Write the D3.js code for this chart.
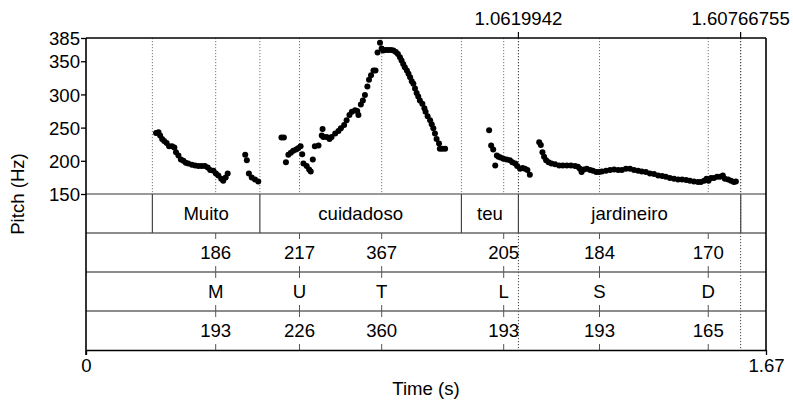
<!DOCTYPE html>
<html>
    <head>
        <title></title>
    </head>
    <body style="margin:0; background:#fff;">
        <style>
            svg text {
                font-family: "Liberation Sans", Arial, sans-serif;
                font-size: 18.6px;
                fill: #000;
            }
        </style>
        <script src="https://cdnjs.cloudflare.com/ajax/libs/d3/7.8.5/d3.min.js" charset="utf-8"></script>

        <script>

        var w = 793;
        var h = 401;

        // pitch track (s, Hz)
        var pitchTimes = [0.172, 0.178, 0.182, 0.187, 0.192, 0.198, 0.204, 0.211, 0.217, 0.221,
                          0.227, 0.233, 0.239, 0.245, 0.251, 0.260, 0.268, 0.276, 0.284, 0.292,
                          0.299, 0.305, 0.313, 0.319, 0.325, 0.332, 0.337, 0.343, 0.348,
                          0.391, 0.395, 0.400, 0.407, 0.415, 0.423,
                          0.480, 0.486, 0.491, 0.497, 0.503, 0.509, 0.516, 0.521, 0.527, 0.531,
                          0.534, 0.542, 0.548, 0.552, 0.557, 0.562, 0.571, 0.579, 0.581, 0.583,
                          0.591, 0.598, 0.603, 0.612, 0.620, 0.626, 0.634, 0.640, 0.647, 0.653,
                          0.661, 0.666, 0.669, 0.675, 0.680, 0.685, 0.691, 0.695, 0.700, 0.706,
                          0.711, 0.716, 0.722, 0.726, 0.730, 0.736, 0.742, 0.749, 0.755, 0.761,
                          0.766, 0.771, 0.775, 0.779, 0.783, 0.788, 0.792, 0.796, 0.800, 0.804,
                          0.808, 0.812, 0.816, 0.820, 0.826, 0.831, 0.834, 0.839, 0.845, 0.849,
                          0.853, 0.857, 0.861, 0.867, 0.869, 0.875, 0.882,
                          0.990, 0.995, 1.000, 1.005, 1.009, 1.013, 1.018, 1.025, 1.033, 1.041,
                          1.047, 1.054, 1.059, 1.066, 1.072, 1.078, 1.084, 1.090,
                          1.113, 1.117, 1.121, 1.125, 1.130, 1.136, 1.143, 1.152, 1.162, 1.171,
                          1.181, 1.191, 1.201, 1.208, 1.213, 1.217, 1.223, 1.230, 1.238, 1.245,
                          1.253, 1.260, 1.267, 1.277, 1.287, 1.297, 1.307, 1.316, 1.326, 1.336,
                          1.346, 1.356, 1.365, 1.375, 1.385, 1.395, 1.405, 1.415, 1.424, 1.434,
                          1.444, 1.454, 1.464, 1.474, 1.483, 1.493, 1.503, 1.510, 1.518, 1.524,
                          1.529, 1.535, 1.542, 1.550, 1.557, 1.564, 1.569, 1.577, 1.584, 1.591,
                          1.596];
        var pitchValues = [242, 243, 238, 233, 230, 227, 222, 222, 220, 213,
                           208, 202, 200, 197, 196, 194, 193, 192, 192, 192,
                           190, 186, 185, 181, 178, 173, 170, 175, 181,
                           209, 201, 181, 175, 172, 169,
                           235, 235, 198, 209, 212, 215, 217, 219, 222, 210,
                           196, 192, 187, 184, 202, 222, 223, 238, 248, 236,
                           236, 233, 236, 241, 245, 249, 254, 261, 269, 274,
                           276, 275, 269, 285, 291, 299, 312, 322, 329, 336,
                           336, 363, 378, 369, 366, 367, 367, 367, 366, 364,
                           361, 356, 351, 346, 341, 336, 331, 326, 320, 316,
                           309, 302, 297, 291, 286, 279, 274, 267, 261, 255,
                           249, 241, 233, 226, 218, 218, 218,
                           246, 223, 217, 193, 208, 206, 205, 203, 202, 201,
                           198, 196, 192, 188, 189, 188, 186, 179,
                           228, 224, 213, 206, 201, 198, 196, 195, 193, 193,
                           193, 193, 192, 191, 188, 183, 187, 188, 186, 185,
                           183, 183, 184, 185, 186, 187, 186, 186, 188, 188,
                           186, 185, 184, 183, 181, 180, 178, 177, 176, 174,
                           173, 172, 172, 171, 170, 169, 168, 168, 170, 173,
                           170, 174, 174, 176, 176, 178, 173, 172, 170, 168,
                           169];

        // annotation tiers
        var words = ["Muito", "cuidadoso", "teu", "jardineiro"];
        var wordStarts = [0.163, 0.427, 0.922, 1.062];
        var wordEnds = [0.427, 0.922, 1.062, 1.608];

        var pointTimes = [0.3185, 0.5243, 0.7262, 1.0258, 1.2611, 1.5282];
        var pointLabels1 = ["186", "217", "367", "205", "184", "170"];
        var pointLabels2 = ["M", "U", "T", "L", "S", "D"];
        var pointLabels3 = ["193", "226", "360", "193", "193", "165"];

        var selectionTimes = [1.0619942, 1.60766755];
        var selectionLabels = ["1.0619942", "1.60766755"];

        var pitchTicks = [150, 200, 250, 300, 350, 385];
        var timeTicks = [0, 1.67];

        var plotLeft = 86, plotRight = 766, plotTop = 38, pitchBottom = 194, tierH = 39;
        var plotBottom = pitchBottom + tierH * 4;

        var xScale = d3.scaleLinear()
                       .domain([0, 1.67])
                       .range([plotLeft, plotRight]);

        var yScale = d3.scaleLinear()
                       .domain([150, 385])
                       .range([pitchBottom, plotTop]);

        var svg = d3.select("body")
                    .append("svg")
                    .attr("width", w)
                    .attr("height", h);

        //dotted guide lines in pitch panel
        var guides = wordStarts.concat([wordEnds[wordEnds.length - 1]]).concat(pointTimes);
        svg.selectAll("line.guide")
            .data(guides)
            .enter()
            .append("line")
            .attr("class", "guide")
            .attr("x1", function(d) { return xScale(d); })
            .attr("x2", function(d) { return xScale(d); })
            .attr("y1", plotTop)
            .attr("y2", pitchBottom)
            .attr("stroke", "#777")
            .attr("stroke-width", 1)
            .attr("stroke-dasharray", "1.2,1.8");

        //selection lines
        svg.selectAll("line.sel")
            .data(selectionTimes)
            .enter()
            .append("line")
            .attr("class", "sel")
            .attr("x1", function(d) { return xScale(d); })
            .attr("x2", function(d) { return xScale(d); })
            .attr("y1", plotTop)
            .attr("y2", plotBottom)
            .attr("stroke", "#444")
            .attr("stroke-width", 1)
            .attr("stroke-dasharray", "1.2,1.8");

        svg.selectAll("line.selTick")
            .data(selectionTimes)
            .enter()
            .append("line")
            .attr("class", "selTick")
            .attr("x1", function(d) { return xScale(d); })
            .attr("x2", function(d) { return xScale(d); })
            .attr("y1", plotTop - 6)
            .attr("y2", plotTop)
            .attr("stroke", "#000")
            .attr("stroke-width", 1.2);

        svg.selectAll("text.sel")
            .data(selectionLabels)
            .enter()
            .append("text")
            .attr("class", "sel")
            .attr("x", function(d, i) { return xScale(selectionTimes[i]); })
            .attr("y", 25)
            .attr("text-anchor", "middle")
            .text(function(d) { return d; });

        //tier separators
        svg.selectAll("line.tierLine")
            .data([0, 1, 2, 3])
            .enter()
            .append("line")
            .attr("class", "tierLine")
            .attr("x1", plotLeft)
            .attr("x2", plotRight)
            .attr("y1", function(d) { return pitchBottom + d * tierH; })
            .attr("y2", function(d) { return pitchBottom + d * tierH; })
            .attr("stroke", function(d) { return d === 0 ? "#999" : "#666"; })
            .attr("stroke-width", function(d) { return d === 0 ? 2 : 1.5; });

        //word tier
        var bounds = wordStarts.concat([wordEnds[wordEnds.length - 1]]);
        svg.selectAll("line.wordBound")
            .data(bounds)
            .enter()
            .append("line")
            .attr("class", "wordBound")
            .attr("x1", function(d) { return xScale(d); })
            .attr("x2", function(d) { return xScale(d); })
            .attr("y1", pitchBottom)
            .attr("y2", pitchBottom + tierH)
            .attr("stroke", "#444")
            .attr("stroke-width", 1.2);

        svg.selectAll("text.word")
            .data(words)
            .enter()
            .append("text")
            .attr("class", "word")
            .attr("x", function(d, i) { return (xScale(wordStarts[i]) + xScale(wordEnds[i])) / 2; })
            .attr("y", pitchBottom + tierH / 2 + 6.5)
            .attr("text-anchor", "middle")
            .text(function(d) { return d; });

        //point tiers
        [pointLabels1, pointLabels2, pointLabels3].forEach(function(labels, k) {
            var y0 = pitchBottom + tierH * (k + 1);
            var tier = svg.append("g");

            tier.selectAll("line.up")
                .data(pointTimes)
                .enter()
                .append("line")
                .attr("x1", function(d) { return xScale(d); })
                .attr("x2", function(d) { return xScale(d); })
                .attr("y1", y0)
                .attr("y2", y0 + 6)
                .attr("stroke", "#555")
                .attr("stroke-width", 1);

            tier.selectAll("line.down")
                .data(pointTimes)
                .enter()
                .append("line")
                .attr("x1", function(d) { return xScale(d); })
                .attr("x2", function(d) { return xScale(d); })
                .attr("y1", y0 + tierH - 6)
                .attr("y2", y0 + tierH)
                .attr("stroke", "#555")
                .attr("stroke-width", 1);

            tier.selectAll("text")
                .data(labels)
                .enter()
                .append("text")
                .attr("x", function(d, i) { return xScale(pointTimes[i]); })
                .attr("y", y0 + tierH / 2 + 6.5)
                .attr("text-anchor", "middle")
                .text(function(d) { return d; });
        });

        //pitch points
        svg.selectAll("circle")
            .data(pitchValues)
            .enter()
            .append("circle")
            .attr("cx", function(d, i) { return xScale(pitchTimes[i]); })
            .attr("cy", function(d) { return yScale(d); })
            .attr("r", 3)
            .attr("fill", "#000");

        //frame
        svg.append("line")
            .attr("x1", plotLeft).attr("x2", plotRight)
            .attr("y1", plotTop).attr("y2", plotTop)
            .attr("stroke", "#000").attr("stroke-width", 1.6);
        svg.append("line")
            .attr("x1", plotRight).attr("x2", plotRight)
            .attr("y1", plotTop).attr("y2", plotBottom)
            .attr("stroke", "#000").attr("stroke-width", 1.6);

        //axes
        var yAxis = d3.axisLeft(yScale)
                      .tickValues(pitchTicks)
                      .tickSize(5)
                      .tickSizeOuter(0)
                      .tickFormat(d3.format("d"));

        var yG = svg.append("g")
            .attr("transform", "translate(" + plotLeft + ",0)")
            .call(yAxis);
        yG.select(".domain").remove();
        yG.selectAll("line").attr("stroke", "#000").attr("stroke-width", 1.3);
        yG.selectAll("text")
            .attr("x", -6)
            .attr("dy", "0.36em")
            .style("font-family", "'Liberation Sans', Arial, sans-serif")
            .style("font-size", "18.6px");

        svg.append("line")
            .attr("x1", plotLeft).attr("x2", plotLeft)
            .attr("y1", plotTop).attr("y2", plotBottom + 5)
            .attr("stroke", "#000").attr("stroke-width", 1.6);

        var xAxis = d3.axisBottom(xScale)
                      .tickValues(timeTicks)
                      .tickSize(5)
                      .tickSizeOuter(0)
                      .tickFormat(function(d) { return d === 0 ? "0" : d3.format(".2f")(d); });

        var xG = svg.append("g")
            .attr("transform", "translate(0," + plotBottom + ")")
            .call(xAxis);
        xG.select(".domain")
            .attr("stroke", "#000").attr("stroke-width", 1.6);
        xG.selectAll("line").attr("stroke", "#000").attr("stroke-width", 1.3);
        xG.selectAll("text")
            .attr("y", 9)
            .style("font-family", "'Liberation Sans', Arial, sans-serif")
            .style("font-size", "18.6px");

        svg.append("text")
            .attr("x", (plotLeft + plotRight) / 2)
            .attr("y", 395)
            .attr("text-anchor", "middle")
            .text("Time (s)");

        svg.append("text")
            .attr("transform", "translate(24," + ((plotTop + plotBottom) / 2) + ") rotate(-90)")
            .attr("text-anchor", "middle")
            .text("Pitch (Hz)");

        </script>
    </body>
</html>
